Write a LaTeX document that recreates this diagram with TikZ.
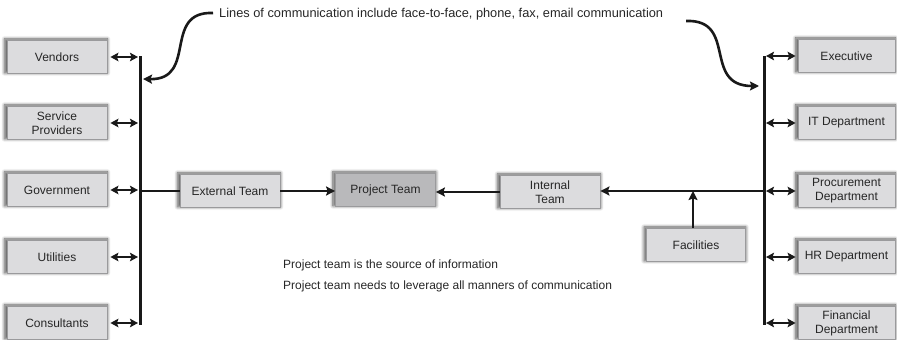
\documentclass[tikz,border=0pt]{standalone}
\usepackage{fontspec}
\setmainfont{Liberation Sans}
\usetikzlibrary{arrows.meta,shadows.blur}
\definecolor{boxfill}{HTML}{DCDCDE}
\definecolor{projfill}{HTML}{B9B9BB}
\definecolor{boxline}{HTML}{9A9A9C}
\begin{document}
\begin{tikzpicture}[x=1pt,y=-1pt,
  box/.style={draw=boxline, line width=0.8pt, fill=boxfill, minimum width=100pt, minimum height=33pt,
    inner sep=1pt, align=center, font=\fontsize{12}{14}\selectfont, text=black!85,
    blur shadow={shadow xshift=-1pt, shadow yshift=1pt, shadow scale=1.03, shadow blur steps=8, shadow blur radius=3pt, shadow opacity=65}},
  rbox/.style={box, minimum width=97pt},
  note/.style={anchor=west, inner sep=0pt, font=\fontsize{12}{14}\selectfont, text=black!85},
  bar/.style={line width=3pt, black!90},
  conn/.style={line width=2.6pt, black!90},
  tip/.style={-{Stealth[length=9pt,width=9pt,inset=1.5pt]}},
  dbl/.style={line width=2.4pt, black!90, {Stealth[length=8pt,width=8.5pt,inset=1.5pt]}-{Stealth[length=8pt,width=8.5pt,inset=1.5pt]}},
]
\useasboundingbox (0,0) rectangle (897,340);

% left boxes
\node[box] (v1) at (57,57) {Vendors};
\node[box] (v2) at (57,123) {Service\\Providers};
\node[box] (v3) at (57,190) {Government};
\node[box] (v4) at (57,257) {Utilities};
\node[box] (v5) at (57,323) {Consultants};

% right boxes
\node[rbox] (r1) at (846.5,56) {Executive};
\node[rbox] (r2) at (846.5,123) {IT Department};
\node[rbox] (r3) at (846.5,191) {Procurement\\Department};
\node[rbox] (r4) at (846.5,257) {HR Department};
\node[rbox] (r5) at (846.5,323) {Financial\\Department};

% middle boxes
\node[box] (ext) at (230,191) {External Team};
\node[box, fill=projfill] (proj) at (385.5,190) {Project Team};
\node[box] (int) at (550,192) {Internal\\Team};
\node[box, minimum width=99pt] (fac) at (696,245) {Facilities};

% bars
\coordinate (lt) at (140,56);
\coordinate (lb) at (140,325);
\coordinate (rt) at (764,56);
\coordinate (rb) at (764,325);
\draw[bar] (lt) -- (lb);
\draw[bar] (rt) -- (rb);

\foreach \i in {1,...,5}{
  \coordinate (L\i) at (lt |- v\i.east);
  \coordinate (R\i) at (rt |- r\i.west);
  \draw[dbl] ([xshift=3pt]v\i.east) -- ([xshift=-2pt]L\i);
  \draw[dbl] ([xshift=2pt]R\i) -- ([xshift=-2pt]r\i.west);
}

% horizontal flows
\coordinate (lm) at (140,191);
\coordinate (rm) at (764,191);
\coordinate (jn) at (693,191);
\draw[conn] (lm) -- (lm -| ext.west);
\draw[conn, tip] (ext.east) -- (ext.east -| proj.west);
\draw[conn, tip] (rm) -- (rm -| int.east);
\draw[conn, tip] (int.west) -- (int.west -| proj.east);
\draw[conn, tip] (jn |- fac.north) -- (jn);

% curved arrows
\node[note, font=\fontsize{12.8}{14}\selectfont] (top) at (219,14) {Lines of communication include face-to-face, phone, fax, email communication};
\coordinate (c1s) at (213,13);
\coordinate (c1e) at (143,79);
\coordinate (c2s) at (686,21);
\coordinate (c2e) at (759,86);
\draw[conn, tip] (c1s) .. controls (162,11) and (198,80) .. (c1e);
\draw[conn, tip] (c2s) .. controls (738,19) and (702,86) .. (c2e);

% notes
\node[note] (n1) at (283,265) {Project team is the source of information};
\node[note] (n2) at (283,286) {Project team needs to leverage all manners of communication};
\end{tikzpicture}
\end{document}
